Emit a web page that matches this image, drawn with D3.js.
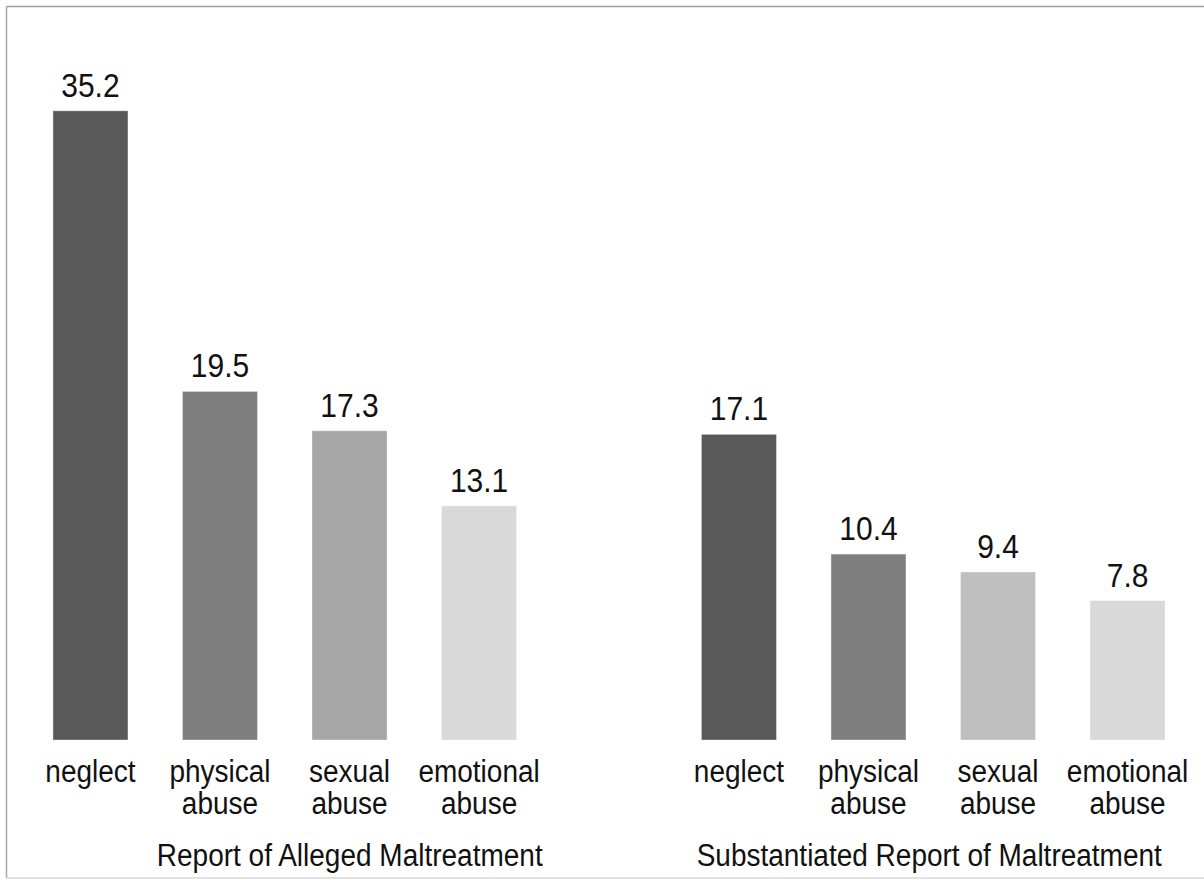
<!DOCTYPE html>
<html>
<head>
<meta charset="utf-8">
<script src="https://cdn.jsdelivr.net/npm/d3@7"></script>
<style>
  html, body { margin: 0; padding: 0; background: #fff; }
  svg { display: block; }
  text { font-family: "Liberation Sans", Arial, sans-serif; fill: #111; }
</style>
</head>
<body>
<svg id="chart" width="1204" height="880"></svg>
<script>
// Report groups and maltreatment categories
const groups = ["Report of Alleged Maltreatment", "Substantiated Report of Maltreatment"];
const categories = ["neglect", "physical abuse", "sexual abuse", "emotional abuse"];
const categoryLines = [["neglect"], ["physical", "abuse"], ["sexual", "abuse"], ["emotional", "abuse"]];

// Rates per group, in category order
const allegedValues = [35.2, 19.5, 17.3, 13.1];
const substantiatedValues = [17.1, 10.4, 9.4, 7.8];

// Bar shades per group
const allegedColors = ["#595959", "#7f7f7f", "#a6a6a6", "#d9d9d9"];
const substantiatedColors = ["#595959", "#7f7f7f", "#bfbfbf", "#d9d9d9"];

const series = [
  { group: groups[0], values: allegedValues, colors: allegedColors },
  { group: groups[1], values: substantiatedValues, colors: substantiatedColors }
];

const svg = d3.select("#chart");

// Text is drawn slightly taller than its font's natural proportions
const stretch = "scale(1,1.1)";

// Frame around the chart area
svg.append("line").attr("x1", 6.5).attr("y1", 6.5).attr("x2", 1210).attr("y2", 6.5)
  .attr("stroke", "#9a9a9a").attr("stroke-width", 1.5);
svg.append("line").attr("x1", 6.5).attr("y1", 6.5).attr("x2", 6.5).attr("y2", 878)
  .attr("stroke", "#a8a8a8").attr("stroke-width", 1.5);
svg.append("line").attr("x1", 6.5).attr("y1", 878).attr("x2", 1210).attr("y2", 878)
  .attr("stroke", "#d8d8d8").attr("stroke-width", 1.5);

const baseline = 740;

const x0 = d3.scaleBand()
  .domain(groups)
  .range([25.75, 1192.25])
  .paddingInner(0.2012)
  .paddingOuter(0);

const x1 = d3.scaleBand()
  .domain(categories)
  .range([0, x0.bandwidth()])
  .paddingInner(0.421)
  .paddingOuter(0.21);

const y = d3.scaleLinear()
  .domain([0, 40])
  .range([baseline, 25]);

const g = svg.selectAll("g.group")
  .data(series)
  .join("g")
  .attr("class", "group")
  .attr("transform", d => `translate(${x0(d.group)},0)`);

// Bars
g.selectAll("rect")
  .data(d => d.values.map((v, i) => ({ cat: categories[i], value: v, color: d.colors[i] })))
  .join("rect")
  .attr("x", d => x1(d.cat))
  .attr("y", d => y(d.value))
  .attr("width", x1.bandwidth())
  .attr("height", d => baseline - y(d.value))
  .attr("fill", d => d.color)
  .attr("stroke", "rgba(255,255,255,0.35)")
  .attr("stroke-width", 1);

// Value labels
g.selectAll("text.value")
  .data(d => d.values.map((v, i) => ({ cat: categories[i], value: v })))
  .join("text")
  .attr("class", "value")
  .attr("transform", d => `translate(${x1(d.cat) + x1.bandwidth() / 2},${y(d.value) - 14}) ${stretch}`)
  .attr("text-anchor", "middle")
  .style("font-size", "30px")
  .text(d => d.value.toFixed(1));

// Category labels, wrapped onto two lines where needed
const cat = g.selectAll("text.cat")
  .data(categories)
  .join("text")
  .attr("class", "cat")
  .attr("transform", d => `translate(${x1(d) + x1.bandwidth() / 2},782) ${stretch}`)
  .attr("text-anchor", "middle")
  .style("font-size", "28px");
cat.selectAll("tspan")
  .data(d => categoryLines[categories.indexOf(d)])
  .join("tspan")
  .attr("x", 0)
  .attr("dy", (d, i) => i === 0 ? 0 : 29)
  .text(d => d);

// Group titles; the first sits under its right-hand three bars
const titleShift = [65, -4];
g.append("text")
  .attr("class", "title")
  .attr("transform", (d, i) => `translate(${x0.bandwidth() / 2 + titleShift[i]},866) ${stretch}`)
  .attr("text-anchor", "middle")
  .style("font-size", "28px")
  .text(d => d.group);
</script>
</body>
</html>
